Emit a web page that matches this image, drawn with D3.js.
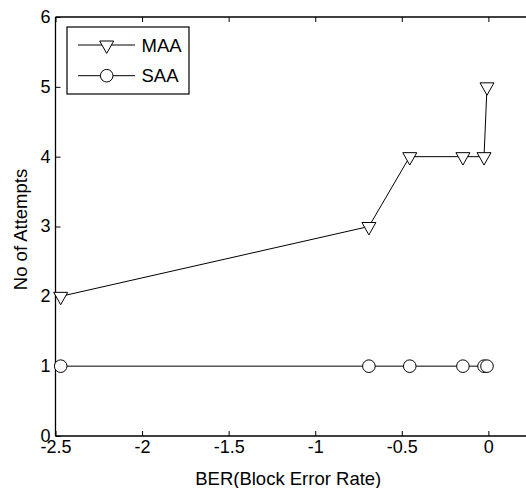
<!DOCTYPE html>
<html>
<head>
<meta charset="utf-8">
<script src="https://cdn.jsdelivr.net/npm/d3@7"></script>
<style>
  body { margin: 0; background: #fff; }
  svg { display: block; font-family: "Liberation Sans", Arial, sans-serif; }
</style>
</head>
<body>
<div id="chart"></div>
<script>
// Values
const maaX = [-2.47, -0.69, -0.454, -0.147, -0.025, -0.008];
const maaY = [2, 3, 4, 4, 4, 5];
const saaX = [-2.47, -0.69, -0.454, -0.147, -0.025, -0.008];
const saaY = [1, 1, 1, 1, 1, 1];
const xTicks = [-2.5, -2, -1.5, -1, -0.5, 0];
const yTicks = [0, 1, 2, 3, 4, 5, 6];
const seriesNames = ["MAA", "SAA"];

const W = 526, H = 488;
const plotLeft = 55.5, plotTop = 17, plotBottom = 436;

const svg = d3.select("#chart").append("svg")
    .attr("width", W)
    .attr("height", H);

const x = d3.scaleLinear().domain([-2.5, 0.2]).range([plotLeft, 523]);
const y = d3.scaleLinear().domain([0, 6]).range([plotBottom, plotTop]);

// axes box (right side runs off the picture)
svg.append("line").attr("x1", plotLeft).attr("x2", W).attr("y1", plotTop).attr("y2", plotTop)
    .attr("stroke", "#000").attr("stroke-width", 1.3);
svg.append("line").attr("x1", plotLeft).attr("x2", W).attr("y1", plotBottom).attr("y2", plotBottom)
    .attr("stroke", "#000").attr("stroke-width", 1.3);
svg.append("line").attr("x1", plotLeft).attr("x2", plotLeft).attr("y1", plotTop).attr("y2", plotBottom)
    .attr("stroke", "#000").attr("stroke-width", 1.3);

// x axis: ticks point inward, mirrored on top
const xAxis = d3.axisBottom(x).tickValues(xTicks).tickSize(-5).tickPadding(6)
    .tickFormat(d => String(d));
const gx = svg.append("g").attr("transform", `translate(0,${plotBottom})`).call(xAxis);
gx.select(".domain").remove();
gx.selectAll("text").style("font-size", "18px").attr("fill", "#000").attr("y", 4).attr("dy", "0.71em");

const gxTop = svg.append("g").attr("transform", `translate(0,${plotTop})`)
    .call(d3.axisTop(x).tickValues(xTicks).tickSize(-5).tickFormat(""));
gxTop.select(".domain").remove();

// y axis
const yAxis = d3.axisLeft(y).tickValues(yTicks).tickSize(-5).tickPadding(5)
    .tickFormat(d3.format("d"));
const gy = svg.append("g").attr("transform", `translate(${plotLeft},0)`).call(yAxis);
gy.select(".domain").remove();
gy.selectAll("text").style("font-size", "18px").attr("fill", "#000").attr("dy", "0.3em");

svg.selectAll(".tick line").attr("stroke", "#000");

// axis labels
svg.append("text")
    .attr("x", (plotLeft + 523) / 2 - 1)
    .attr("y", 485)
    .attr("text-anchor", "middle")
    .style("font-size", "18.5px")
    .text("BER(Block Error Rate)");

svg.append("text")
    .attr("transform", `translate(27,${(plotTop + plotBottom) / 2 + 3}) rotate(-90)`)
    .attr("text-anchor", "middle")
    .style("font-size", "18.5px")
    .text("No of Attempts");

// markers
const triangle = "M-7,-4L7,-4L0,8.4Z";

function drawSeries(xs, ys, marker) {
    const pts = xs.map((v, i) => [v, ys[i]]);
    const line = d3.line().x(d => x(d[0])).y(d => y(d[1]));
    svg.append("path")
        .datum(pts)
        .attr("d", line)
        .attr("fill", "none")
        .attr("stroke", "#000")
        .attr("stroke-width", 1);
    pts.forEach(p => {
        if (marker === "tri") {
            svg.append("path")
                .attr("d", triangle)
                .attr("transform", `translate(${x(p[0])},${y(p[1])})`)
                .attr("fill", "#fff")
                .attr("stroke", "#000")
                .attr("stroke-width", 1);
        } else {
            svg.append("circle")
                .attr("cx", x(p[0]))
                .attr("cy", y(p[1]))
                .attr("r", 6.3)
                .attr("fill", "#fff")
                .attr("stroke", "#000")
                .attr("stroke-width", 1);
        }
    });
}

drawSeries(maaX, maaY, "tri");
drawSeries(saaX, saaY, "circ");

// legend
const lg = svg.append("g");
lg.append("rect")
    .attr("x", 67).attr("y", 27)
    .attr("width", 122).attr("height", 67)
    .attr("fill", "#fff")
    .attr("stroke", "#000")
    .attr("stroke-width", 1.2);

seriesNames.forEach((name, i) => {
    const ly = 45 + i * 30.7;
    lg.append("line").attr("x1", 78).attr("x2", 135).attr("y1", ly).attr("y2", ly)
        .attr("stroke", "#000").attr("stroke-width", 1);
    if (i === 0) {
        lg.append("path").attr("d", triangle)
            .attr("transform", `translate(106.7,${ly})`)
            .attr("fill", "#fff").attr("stroke", "#000");
    } else {
        lg.append("circle").attr("cx", 106.7).attr("cy", ly).attr("r", 6.3)
            .attr("fill", "#fff").attr("stroke", "#000");
    }
    lg.append("text")
        .attr("x", 141.5)
        .attr("y", ly)
        .attr("dy", "0.36em")
        .style("font-size", "18.5px")
        .text(name);
});
</script>
</body>
</html>
